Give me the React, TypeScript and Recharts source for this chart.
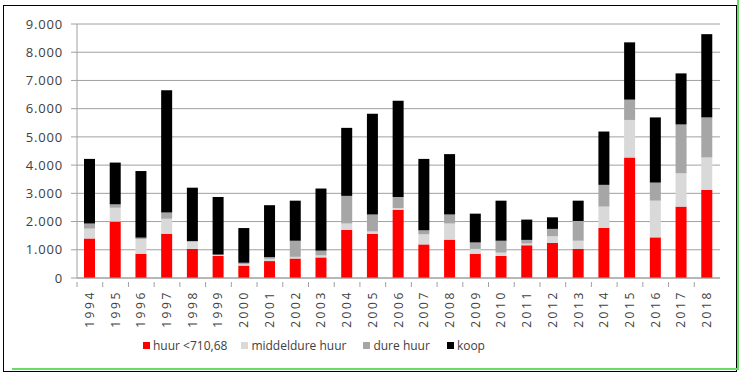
import React from 'react';
import { BarChart, Bar, XAxis, YAxis, CartesianGrid, Legend } from 'recharts';

const years = [
  '1994', '1995', '1996', '1997', '1998', '1999', '2000', '2001', '2002', '2003',
  '2004', '2005', '2006', '2007', '2008', '2009', '2010', '2011', '2012', '2013',
  '2014', '2015', '2016', '2017', '2018',
];
const huurLaag = [1400, 2000, 860, 1570, 1030, 780, 440, 600, 690, 730, 1700, 1570, 2420, 1190, 1360, 860, 780, 1160, 1240, 1030, 1780, 4270, 1440, 2530, 3130];
const middeldure = [350, 490, 520, 530, 250, 30, 50, 80, 60, 70, 230, 80, 60, 360, 570, 170, 120, 60, 240, 290, 750, 1330, 1300, 1180, 1140];
const dureHuur = [180, 120, 50, 220, 30, 20, 50, 60, 570, 170, 980, 600, 390, 140, 320, 230, 420, 130, 260, 700, 770, 720, 640, 1730, 1420];
const koop = [2290, 1480, 2360, 4330, 1890, 2040, 1230, 1840, 1420, 2200, 2410, 3570, 3410, 2530, 2140, 1020, 1420, 720, 410, 720, 1890, 2030, 2310, 1810, 2950];
const yTicks = [0, 1000, 2000, 3000, 4000, 5000, 6000, 7000, 8000, 9000];

const series = [
  { key: 'huur', name: 'huur <710,68', color: '#ff0000' },
  { key: 'middel', name: 'middeldure huur', color: '#d9d9d9' },
  { key: 'dure', name: 'dure huur', color: '#a6a6a6' },
  { key: 'koop', name: 'koop', color: '#000000' },
];

const data = years.map((y, i) => ({
  year: y,
  huur: huurLaag[i],
  middel: middeldure[i],
  dure: dureHuur[i],
  koop: koop[i],
}));

const font = '"Open Sans", "DejaVu Sans", sans-serif';
const band = (720 - 77) / years.length;

const fmt = (v: number) => (v === 0 ? '0' : v.toLocaleString('de-DE'));

function YearTick(props: any) {
  const { x, y, payload } = props;
  return (
    <g>
      <line x1={x - band / 2} y1={y - 4} x2={x - band / 2} y2={y + 1} stroke="#a0a0a0" />
      <text
        x={x + 4}
        y={y + 4}
        transform={`rotate(-90 ${x + 4} ${y + 4})`}
        textAnchor="end"
        fontSize={12}
        letterSpacing={2.6}
        fill="#404040"
        fontFamily={font}
      >
        {payload.value}
      </text>
    </g>
  );
}

function renderLegend() {
  return (
    <div style={{ display: 'flex', alignItems: 'center', paddingLeft: 143, fontFamily: font, fontSize: 12, color: '#404040' }}>
      {series.map((s, i) => (
        <div key={s.key} style={{ display: 'flex', alignItems: 'center', marginRight: i === 0 ? 14 : 17 }}>
          <span style={{ width: 7, height: 7, background: s.color, display: 'inline-block', marginRight: 3 }} />
          <span>{s.name}</span>
        </div>
      ))}
    </div>
  );
}

export default function App() {
  return (
    <div style={{ position: 'absolute', left: 0, top: 0, width: 747, height: 376, background: '#fff' }}>
      <div style={{ position: 'absolute', left: 3, top: 5, width: 734, height: 367, border: '1px solid #000', boxSizing: 'border-box' }} />
      <div style={{ position: 'absolute', left: 737, top: 0, width: 2, height: 370, background: '#66dd66' }} />
      <div style={{ position: 'absolute', left: 12, top: 368, width: 727, height: 2, background: '#66dd66' }} />
      <div style={{ position: 'absolute', left: 0, top: 0 }}>
        <BarChart
          width={747}
          height={376}
          data={data}
          margin={{ top: 24, right: 27, left: 0, bottom: 0 }}
          barSize={11}
        >
          <CartesianGrid vertical={false} stroke="#a0a0a0" />
          <XAxis
            dataKey="year"
            height={50}
            axisLine={{ stroke: '#a0a0a0' }}
            tickLine={false}
            tick={<YearTick />}
            interval={0}
          />
          <YAxis
            width={77}
            domain={[0, 9000]}
            ticks={yTicks}
            tickFormatter={fmt}
            axisLine={{ stroke: '#a0a0a0' }}
            tickLine={{ stroke: '#a0a0a0' }}
            tickSize={6}
            tickMargin={8}
            tick={{ fontSize: 13, fill: '#404040', fontFamily: font, letterSpacing: 0.8 }}
          />
          <Legend
            verticalAlign="bottom"
            height={48}
            content={renderLegend}
            wrapperStyle={{ left: 0, top: 337, width: 747 }}
          />
          {series.map((s) => (
            <Bar key={s.key} dataKey={s.key} name={s.name} stackId="a" fill={s.color} isAnimationActive={false} />
          ))}
        </BarChart>
      </div>
    </div>
  );
}
